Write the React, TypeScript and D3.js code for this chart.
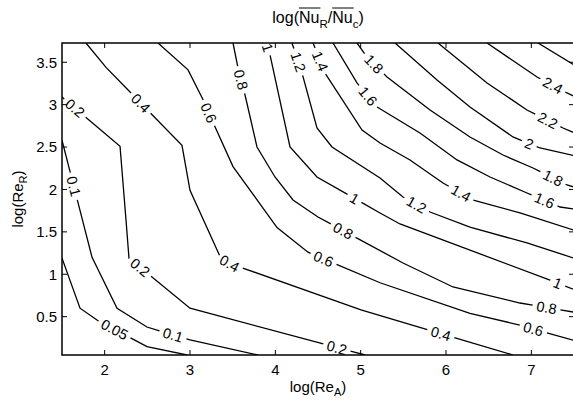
import React, { useLayoutEffect, useRef, useState } from 'react';
import * as d3 from 'd3';

type P = [number, number];

const W = 573;
const H = 401;
const PLOT = { left: 62, top: 43, right: 574, bottom: 355 };
const FONT = '"Liberation Sans", Arial, Helvetica, sans-serif';
const FS = 15;
const LFS = 14.5;

const xDomain: P = [1.5, 7.5];
const yDomain: P = [0.048, 3.727];
const xTicks = [2, 3, 4, 5, 6, 7];
const yTicks = [0.5, 1, 1.5, 2, 2.5, 3, 3.5];

// contour polylines in data units: [log(Re_A), log(Re_R)]
const c005: P[] = [[1.5, 1.19], [1.711, 0.6], [1.91, 0.46], [2.496, 0.146], [2.965, 0.048]];
const l005: P[] = [[2.1, 0.32]];
const c01: P[] = [[1.5, 2.58], [1.852, 1.2], [2.145, 0.6], [2.496, 0.378], [3.0, 0.225], [3.797, 0.048]];
const l01: P[] = [[1.652, 2.041], [2.8, 0.284]];
const c02: P[] = [[1.5, 3.09], [2.18, 2.51], [2.25, 1.64], [2.285, 1.19], [3.0, 0.6], [4.606, 0.166], [5.051, 0.048]];
const l02: P[] = [[1.652, 2.96], [2.39, 1.05], [4.72, 0.13]];
const c04: P[] = [[1.781, 3.727], [2.016, 3.44], [2.906, 2.52], [3.0, 1.99], [3.375, 1.16], [5.004, 0.58], [6.785, 0.048]];
const l04: P[] = [[2.449, 3.043], [3.469, 1.145], [5.93, 0.27]];
const c06: P[] = [[2.625, 3.727], [2.977, 3.41], [3.152, 3.06], [3.293, 2.74], [3.504, 2.27], [4.02, 1.55], [4.383, 1.26], [5.227, 0.9], [6.281, 0.54], [6.867, 0.4], [7.5, 0.22]];
const l06: P[] = [[3.211, 2.9], [4.559, 1.168], [7.02, 0.343]];
const c08: P[] = [[3.504, 3.727], [3.563, 3.432], [3.645, 3.114], [3.785, 2.501], [3.996, 2.147], [4.207, 1.876], [4.5, 1.675], [5.496, 1.133], [6.082, 0.85], [6.867, 0.661], [7.5, 0.553]];
const l08: P[] = [[3.586, 3.291], [4.778, 1.483], [7.18, 0.618]];
const c10: P[] = [[3.891, 3.727], [3.938, 3.586], [4.172, 2.501], [4.488, 2.147], [5.227, 1.723], [5.461, 1.593], [7.219, 0.932], [7.5, 0.82]];
const l10: P[] = [[3.891, 3.665], [4.91, 1.864], [7.301, 0.873]];
const c12: P[] = [[4.195, 3.727], [4.313, 3.373], [4.488, 2.725], [4.664, 2.501], [5.227, 2.135], [5.496, 1.911], [5.813, 1.734], [6.281, 1.557], [6.949, 1.369], [7.5, 1.19]];
const l12: P[] = [[4.231, 3.491], [5.66, 1.829]];
const c14: P[] = [[4.442, 3.727], [4.582, 3.373], [5.016, 2.701], [5.227, 2.548], [5.578, 2.348], [5.965, 2.076], [6.317, 1.876], [6.867, 1.723], [7.5, 1.52]];
const l14: P[] = [[4.5, 3.503], [6.164, 1.935]];
const c16: P[] = [[4.676, 3.727], [4.957, 3.256], [5.192, 2.973], [5.695, 2.666], [6.129, 2.348], [6.516, 2.147], [6.949, 1.958], [7.336, 1.793], [7.5, 1.77]];
const l16: P[] = [[5.074, 3.09], [7.137, 1.829]];
const c18: P[] = [[4.957, 3.727], [5.074, 3.562], [5.309, 3.326], [5.813, 2.937], [6.281, 2.619], [6.668, 2.406], [7.02, 2.253], [7.418, 2.053], [7.5, 2.029]];
const l18: P[] = [[5.156, 3.48], [7.242, 2.112]];
const c20: P[] = [[5.403, 3.727], [5.895, 3.291], [6.281, 2.973], [6.785, 2.619], [7.102, 2.489], [7.5, 2.4]];
const l20: P[] = [[6.973, 2.536]];
const c22: P[] = [[5.906, 3.727], [6.481, 3.256], [6.949, 2.937], [7.371, 2.725], [7.5, 2.67]];
const l22: P[] = [[7.184, 2.796]];
const c24: P[] = [[6.481, 3.727], [7.067, 3.326], [7.418, 3.138], [7.5, 3.1]];
const l24: P[] = [[7.242, 3.208]];
const c26: P[] = [[7.078, 3.727], [7.5, 3.47]];
const l26: P[] = [];

const levels = [0.05, 0.1, 0.2, 0.4, 0.6, 0.8, 1, 1.2, 1.4, 1.6, 1.8, 2, 2.2, 2.4, 2.6];
const linesByLevel = [c005, c01, c02, c04, c06, c08, c10, c12, c14, c16, c18, c20, c22, c24, c26];
const labelsByLevel = [l005, l01, l02, l04, l06, l08, l10, l12, l14, l16, l18, l20, l22, l24, l26];

function cumLengths(pts: P[]): number[] {
  const c = [0];
  for (let i = 1; i < pts.length; i++) {
    c.push(c[i - 1] + Math.hypot(pts[i][0] - pts[i - 1][0], pts[i][1] - pts[i - 1][1]));
  }
  return c;
}

function projectS(pts: P[], cum: number[], q: P): number {
  let best = Infinity;
  let bestS = 0;
  for (let i = 1; i < pts.length; i++) {
    const [ax, ay] = pts[i - 1];
    const [bx, by] = pts[i];
    const dx = bx - ax, dy = by - ay;
    const L2 = dx * dx + dy * dy || 1e-9;
    let t = ((q[0] - ax) * dx + (q[1] - ay) * dy) / L2;
    t = Math.max(0, Math.min(1, t));
    const px = ax + t * dx, py = ay + t * dy;
    const d = Math.hypot(q[0] - px, q[1] - py);
    if (d < best) {
      best = d;
      bestS = cum[i - 1] + t * Math.sqrt(L2);
    }
  }
  return bestS;
}

function pointAt(pts: P[], cum: number[], s: number): P {
  const total = cum[cum.length - 1];
  s = Math.max(0, Math.min(total, s));
  for (let i = 1; i < pts.length; i++) {
    if (s <= cum[i] || i === pts.length - 1) {
      const seg = cum[i] - cum[i - 1] || 1e-9;
      const t = Math.max(0, Math.min(1, (s - cum[i - 1]) / seg));
      return [pts[i - 1][0] + t * (pts[i][0] - pts[i - 1][0]), pts[i - 1][1] + t * (pts[i][1] - pts[i - 1][1])];
    }
  }
  return pts[pts.length - 1];
}

function subPath(pts: P[], cum: number[], s0: number, s1: number): P[] {
  const out: P[] = [pointAt(pts, cum, s0)];
  for (let i = 0; i < pts.length; i++) {
    if (cum[i] > s0 && cum[i] < s1) out.push(pts[i]);
  }
  out.push(pointAt(pts, cum, s1));
  return out;
}

function textWidth(str: string, fs: number): number {
  let w = 0;
  for (const ch of str) w += ch === '.' ? 0.278 : 0.556;
  return w * fs;
}

function Title({ x, y }: { x: number; y: number }) {
  const ref = useRef<SVGTextElement>(null);
  const [bars, setBars] = useState<{ x1: number; x2: number }[]>([]);
  useLayoutEffect(() => {
    const t = ref.current;
    if (!t) return;
    try {
      const b = [[4, 5], [8, 9]].map(([a, c]) => {
        const ea = t.getExtentOfChar(a);
        const ec = t.getExtentOfChar(c);
        return { x1: ea.x, x2: ec.x + ec.width + 1 };
      });
      setBars(b);
    } catch (e) {
      /* ignore */
    }
  }, []);
  return (
    <g>
      <text ref={ref} x={x} y={y} textAnchor="middle" fontSize={16} fontFamily={FONT} fill="#000">
        log(<tspan>Nu</tspan>
        <tspan fontSize={11.5} dy={5}>R</tspan>
        <tspan dy={-5}>/Nu</tspan>
        <tspan fontSize={11.5} dy={5}>c</tspan>
        <tspan dy={-5}>)</tspan>
      </text>
      {bars.map((b, i) => (
        <line key={i} x1={b.x1} x2={b.x2} y1={y - 15} y2={y - 15} stroke="#000" strokeWidth={1} />
      ))}
    </g>
  );
}

export default function App() {
  const xs = d3.scaleLinear().domain(xDomain).range([PLOT.left, PLOT.right]);
  const ys = d3.scaleLinear().domain(yDomain).range([PLOT.bottom, PLOT.top]);
  const lineGen = d3.line<P>().x((d) => d[0]).y((d) => d[1]);

  const paths: string[] = [];
  const texts: { x: number; y: number; a: number; s: string }[] = [];

  levels.forEach((lev, li) => {
    const pts: P[] = linesByLevel[li].map(([x, y]) => [xs(x), ys(y)]);
    const cum = cumLengths(pts);
    const total = cum[cum.length - 1];
    const str = String(lev);
    const half = textWidth(str, LFS) / 2 + 4;
    const cuts: [number, number][] = [];
    labelsByLevel[li].forEach((lp) => {
      const q: P = [xs(lp[0]), ys(lp[1])];
      const s = projectS(pts, cum, q);
      const c = pointAt(pts, cum, s);
      const pa = pointAt(pts, cum, s - half);
      const pb = pointAt(pts, cum, s + half);
      let ang = (Math.atan2(pb[1] - pa[1], pb[0] - pa[0]) * 180) / Math.PI;
      if (ang > 90) ang -= 180;
      if (ang < -90) ang += 180;
      texts.push({ x: c[0], y: c[1], a: ang, s: str });
      cuts.push([s - half, s + half]);
    });
    cuts.sort((a, b) => a[0] - b[0]);
    let start = 0;
    cuts.forEach(([a, b]) => {
      if (a > start) paths.push(lineGen(subPath(pts, cum, start, a)) || '');
      start = Math.max(start, b);
    });
    if (start < total) paths.push(lineGen(subPath(pts, cum, start, total)) || '');
  });

  const tl = 5;
  const cx = (PLOT.left + PLOT.right) / 2;
  const cy = (PLOT.top + PLOT.bottom) / 2;

  return (
    <svg width={W} height={H} style={{ position: 'absolute', left: 0, top: 0, background: '#fff' }} fontFamily={FONT}>
      <rect x={0} y={0} width={W} height={H} fill="#fff" />
      <defs>
        <clipPath id="plotclip">
          <rect x={PLOT.left} y={PLOT.top} width={PLOT.right - PLOT.left} height={PLOT.bottom - PLOT.top} />
        </clipPath>
      </defs>
      <g clipPath="url(#plotclip)">
        {paths.map((d, i) => (
          <path key={i} d={d} fill="none" stroke="#000" strokeWidth={1.3} />
        ))}
      </g>
      {texts.map((t, i) => (
        <text
          key={i}
          transform={`translate(${t.x},${t.y}) rotate(${t.a})`}
          textAnchor="middle"
          dy="0.36em"
          fontSize={LFS}
          fill="#000"
        >
          {t.s}
        </text>
      ))}
      {/* axes box */}
      <rect x={PLOT.left} y={PLOT.top} width={PLOT.right - PLOT.left} height={PLOT.bottom - PLOT.top} fill="none" stroke="#000" strokeWidth={1.5} />
      {xTicks.map((t) => (
        <g key={'x' + t}>
          <line x1={xs(t)} x2={xs(t)} y1={PLOT.bottom} y2={PLOT.bottom - tl} stroke="#000" />
          <line x1={xs(t)} x2={xs(t)} y1={PLOT.top} y2={PLOT.top + tl} stroke="#000" />
          <text x={xs(t)} y={PLOT.bottom + 19.5} textAnchor="middle" fontSize={FS} fill="#000">
            {t}
          </text>
        </g>
      ))}
      {yTicks.map((t) => (
        <g key={'y' + t}>
          <line x1={PLOT.left} x2={PLOT.left + tl} y1={ys(t)} y2={ys(t)} stroke="#000" />
          <line x1={PLOT.right} x2={PLOT.right - tl} y1={ys(t)} y2={ys(t)} stroke="#000" />
          <text x={PLOT.left - 5} y={ys(t) + 5.3} textAnchor="end" fontSize={FS} fill="#000">
            {t}
          </text>
        </g>
      ))}
      <Title x={cx} y={23} />
      <text x={cx} y={392} textAnchor="middle" fontSize={FS} fill="#000">
        log(Re<tspan fontSize={11} dy={4}>A</tspan>
        <tspan dy={-4}>)</tspan>
      </text>
      <text transform={`translate(23,${cy}) rotate(-90)`} textAnchor="middle" fontSize={FS} fill="#000">
        log(Re<tspan fontSize={11} dy={4}>R</tspan>
        <tspan dy={-4}>)</tspan>
      </text>
    </svg>
  );
}
